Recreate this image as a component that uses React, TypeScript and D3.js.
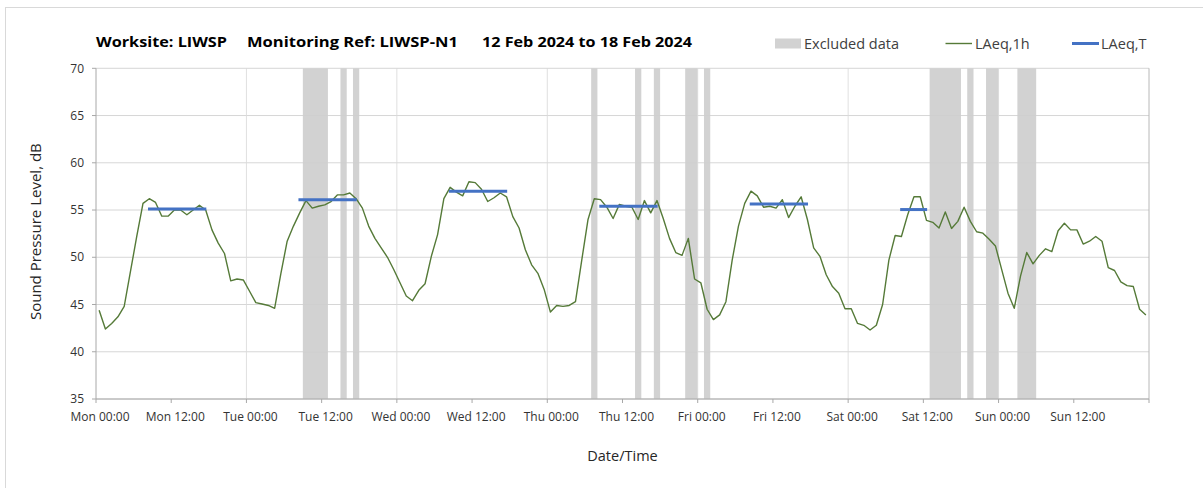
import React from "react";
import * as d3 from "d3";

// LAeq,1h values (dB), one per hour from Mon 00:00 to Sun 23:00
const laeq1h: number[] = [
  44.4, 42.4, 43.0, 43.7, 44.8, 48.5, 52.2, 55.7, 56.2, 55.8, 54.35, 54.35,
  55.0, 55.0, 54.5, 55.0, 55.5, 55.0, 52.9, 51.5, 50.4, 47.5, 47.7, 47.6,
  46.4, 45.2, 45.05, 44.9, 44.6, 48.3, 51.7, 53.3, 54.7, 56.0, 55.2, 55.4,
  55.55, 55.9, 56.6, 56.6, 56.8, 56.2, 55.2, 53.3, 52.0, 51.0, 50.0, 48.7,
  47.3, 45.9, 45.4, 46.5, 47.2, 50.1, 52.4, 56.2, 57.4, 56.9, 56.5, 58.0,
  57.9, 57.2, 55.9, 56.3, 56.8, 56.4, 54.3, 53.1, 50.8, 49.2, 48.3, 46.6,
  44.2, 44.9, 44.8, 44.9, 45.3, 49.7, 54.0, 56.2, 56.1, 55.3, 54.1, 55.6,
  55.4, 55.3, 54.0, 56.0, 54.7, 56.0, 54.1, 52.0, 50.5, 50.2, 52.0, 47.7,
  47.3, 44.5, 43.4, 43.9, 45.3, 49.7, 53.3, 55.7, 57.0, 56.5, 55.3, 55.4,
  55.2, 56.1, 54.2, 55.4, 56.4, 54.0, 51.0, 50.1, 48.15, 46.9, 46.2, 44.55,
  44.55, 43.0, 42.8, 42.3, 42.8, 45.0, 49.7, 52.3, 52.2, 54.5, 56.4, 56.4,
  53.9, 53.7, 53.1, 54.8, 53.05, 53.8, 55.3, 53.8, 52.7, 52.55, 51.9, 51.2,
  48.7, 46.2, 44.6, 48.0, 50.5, 49.3, 50.2, 50.9, 50.6, 52.8, 53.6, 52.9,
  52.9, 51.4, 51.7, 52.2, 51.7, 48.9, 48.6, 47.4, 47.0, 46.9, 44.5, 43.9,
];

// Excluded data periods (hours from Mon 00:00)
const excludedStart: number[] = [33, 39, 41, 79, 86, 89, 94, 97, 133, 139, 142, 147];
const excludedEnd: number[] = [37, 40, 42, 80, 87, 90, 96, 98, 138, 140, 144, 150];

// LAeq,T daytime values per day
const laeqTDay: number[] = [0, 1, 2, 3, 4, 5];
const laeqTValue: number[] = [55.1, 56.1, 57.0, 55.4, 55.65, 55.05];
const laeqTStartHour: number[] = [8.3, 8.3, 8.3, 8.3, 8.3, 8.3];
const laeqTEndHour: number[] = [17.6, 17.6, 17.6, 17.6, 17.6, 12.6];

// Axes
const xTickHours: number[] = [0, 12, 24, 36, 48, 60, 72, 84, 96, 108, 120, 132, 144, 156, 168];
const xTickLabels: string[] = [
  "Mon 00:00", "Mon 12:00", "Tue 00:00", "Tue 12:00", "Wed 00:00", "Wed 12:00",
  "Thu 00:00", "Thu 12:00", "Fri 00:00", "Fri 12:00", "Sat 00:00", "Sat 12:00",
  "Sun 00:00", "Sun 12:00",
];
const xGridHours: number[] = [24, 48, 72, 96, 120, 144];
const yTicks: number[] = [35, 40, 45, 50, 55, 60, 65, 70];

const FONT = "'Open Sans', 'Noto Sans', sans-serif";

export default function App() {
  const W = 1203;
  const H = 488;
  const left = 96;
  const right = 1149;
  const top = 68.3;
  const bottom = 399;

  const x = d3.scaleLinear().domain([0, 168]).range([left, right]);
  const y = d3.scaleLinear().domain([35, 70]).range([bottom, top]);

  const line = d3
    .line<number>()
    .x((_, i) => x(i + 0.5))
    .y((d) => y(d));

  return (
    <svg
      width={W}
      height={H}
      style={{ position: "absolute", left: 0, top: 0, background: "#fff" }}
      fontFamily={FONT}
    >
      {/* chart border */}
      <rect x={5.5} y={7.5} width={1300} height={600} fill="#fff" stroke="#d9d9d9" strokeWidth={1} />

      {/* excluded bands */}
      {excludedStart.map((s, i) => (
        <rect
          key={"b" + i}
          x={x(s)}
          y={top}
          width={x(excludedEnd[i]) - x(s)}
          height={bottom - top}
          fill="#d2d2d2"
        />
      ))}

      {/* horizontal gridlines */}
      {yTicks.map((t) => (
        <line
          key={"gy" + t}
          x1={left}
          x2={right}
          y1={y(t)}
          y2={y(t)}
          stroke="#cfcfcf"
          strokeOpacity={0.85}
          strokeWidth={1}
        />
      ))}
      {/* vertical gridlines */}
      {xGridHours.map((h) => (
        <line
          key={"gx" + h}
          x1={x(h)}
          x2={x(h)}
          y1={top}
          y2={bottom}
          stroke="#d9d9d9"
          strokeOpacity={0.85}
          strokeWidth={1}
        />
      ))}
      {/* right border of plot */}
      <line x1={right} x2={right} y1={top} y2={bottom} stroke="#b8b8b8" strokeWidth={1} />

      {/* axes */}
      <line x1={left} x2={left} y1={top} y2={bottom} stroke="#a8a8a8" strokeWidth={1} />
      <line x1={left} x2={right} y1={bottom} y2={bottom} stroke="#a8a8a8" strokeWidth={1} />
      {yTicks.map((t) => (
        <g key={"yt" + t}>
          <line x1={left - 4} x2={left} y1={y(t)} y2={y(t)} stroke="#a8a8a8" />
          <text
            x={left - 12}
            y={y(t)}
            dy="0.35em"
            textAnchor="end"
            fontSize={12}
            fill="#333"
          >
            {t}
          </text>
        </g>
      ))}
      {xTickHours.map((h) => (
        <line key={"xt" + h} x1={x(h)} x2={x(h)} y1={bottom} y2={bottom + 4} stroke="#a8a8a8" />
      ))}
      {xTickLabels.map((lab, i) => (
        <text
          key={"xl" + i}
          x={x(xTickHours[i]) + 4}
          y={421}
          textAnchor="middle"
          fontSize={12}
          fill="#333"
        >
          {lab}
        </text>
      ))}

      {/* LAeq,1h line */}
      <path d={line(laeq1h) || ""} fill="none" stroke="#557a38" strokeWidth={1.4} strokeLinejoin="round" />

      {/* LAeq,T segments */}
      {laeqTDay.map((d, i) => (
        <line
          key={"lt" + i}
          x1={x(d * 24 + laeqTStartHour[i])}
          x2={x(d * 24 + laeqTEndHour[i])}
          y1={y(laeqTValue[i])}
          y2={y(laeqTValue[i])}
          stroke="#4472c4"
          strokeWidth={3}
        />
      ))}

      {/* axis titles */}
      <text
        transform={`translate(41, ${(top + bottom) / 2 - 2}) rotate(-90)`}
        textAnchor="middle"
        fontSize={15}
        fill="#262626"
      >
        Sound Pressure Level, dB
      </text>
      <text x={(left + right) / 2} y={461} textAnchor="middle" fontSize={14.5} fill="#262626">
        Date/Time
      </text>

      {/* title */}
      <g fontWeight="bold" fontSize={14} fill="#000">
        <text x={96} y={47} textLength={131} lengthAdjust="spacingAndGlyphs">Worksite: LIWSP</text>
        <text x={247} y={47} textLength={211} lengthAdjust="spacingAndGlyphs">Monitoring Ref: LIWSP-N1</text>
        <text x={482} y={47} textLength={210} lengthAdjust="spacingAndGlyphs">12 Feb 2024 to 18 Feb 2024</text>
      </g>

      {/* legend */}
      <g fontSize={14.5} fill="#404040">
        <rect x={775} y={38.5} width={26} height={10} fill="#d2d2d2" />
        <text x={804} y={48.5}>Excluded data</text>
        <line x1={945.5} x2={972} y1={43.5} y2={43.5} stroke="#557a38" strokeWidth={1.4} />
        <text x={975} y={48.5}>LAeq,1h</text>
        <line x1={1072} x2={1099} y1={43.5} y2={43.5} stroke="#4472c4" strokeWidth={3} />
        <text x={1101} y={48.5}>LAeq,T</text>
      </g>
    </svg>
  );
}
